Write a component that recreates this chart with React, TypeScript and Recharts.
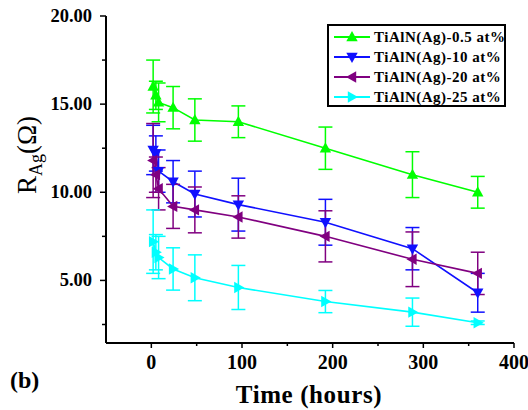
import React from "react";
import { LineChart, Line, XAxis, YAxis, ErrorBar } from "recharts";

// sampling times (hours)
const times = [2, 5, 8, 24, 48, 96, 192, 288, 360];

// R_Ag values (ohm) and error bars
const ag05 = [16.0, 15.5, 15.1, 14.8, 14.1, 14.0, 12.5, 11.0, 10.0];
const ag05Err = [1.5, 0.8, 1.1, 1.2, 1.2, 0.9, 1.2, 1.3, 0.9];
const ag10 = [12.4, 12.2, 11.2, 10.6, 9.9, 9.3, 8.3, 6.8, 4.3];
const ag10Err = [1.4, 1.0, 1.2, 1.2, 1.3, 1.5, 1.3, 1.2, 1.1];
const ag20 = [11.8, 11.0, 10.2, 9.2, 9.0, 8.6, 7.5, 6.2, 5.4];
const ag20Err = [2.1, 1.0, 1.2, 1.25, 1.3, 1.2, 1.45, 1.55, 1.2];
const ag25 = [7.2, 6.6, 6.3, 5.65, 5.15, 4.6, 3.8, 3.2, 2.6];
const ag25Err = [1.8, 1.0, 1.2, 1.2, 1.3, 1.25, 0.63, 0.8, 0.1];

const seriesNames = ["TiAlN(Ag)-0.5 at%", "TiAlN(Ag)-10 at%", "TiAlN(Ag)-20 at%", "TiAlN(Ag)-25 at%"];

const xTicks = [0, 50, 100, 150, 200, 250, 300, 350, 400];
const yTicks = [2.5, 5, 7.5, 10, 12.5, 15, 17.5, 20];

const FONT = "'Liberation Serif', 'Times New Roman', serif";

type Shape = "up" | "down" | "left" | "right";

const series = [
  { key: "a", name: seriesNames[0], color: "#00ff00", shape: "up" as Shape, values: ag05, err: ag05Err },
  { key: "b", name: seriesNames[1], color: "#1010ff", shape: "down" as Shape, values: ag10, err: ag10Err },
  { key: "c", name: seriesNames[2], color: "#800080", shape: "left" as Shape, values: ag20, err: ag20Err },
  { key: "d", name: seriesNames[3], color: "#00ffff", shape: "right" as Shape, values: ag25, err: ag25Err },
];

const data = times.map((t, i) => {
  const row: any = { time: t };
  series.forEach((s) => {
    row[s.key] = s.values[i];
    row[s.key + "Err"] = s.err[i];
  });
  return row;
});

const trianglePoints = (cx: number, cy: number, shape: Shape, r = 6) => {
  const a = r * 0.95;
  const b = r * 0.7;
  switch (shape) {
    case "up":
      return `${cx},${cy - r} ${cx - a},${cy + b} ${cx + a},${cy + b}`;
    case "down":
      return `${cx},${cy + r} ${cx - a},${cy - b} ${cx + a},${cy - b}`;
    case "left":
      return `${cx - r},${cy} ${cx + b},${cy - a} ${cx + b},${cy + a}`;
    default:
      return `${cx + r},${cy} ${cx - b},${cy - a} ${cx - b},${cy + a}`;
  }
};

const XTick = (props: any) => {
  const { x, y, payload } = props;
  const major = payload.value % 100 === 0;
  return (
    <g>
      <line x1={x} y1={y} x2={x} y2={y + (major ? 5 : 3)} stroke="#000" strokeWidth={1.5} />
      {major && (
        <text x={x} y={y + 26} textAnchor="middle" fontFamily={FONT} fontWeight="bold" fontSize={20} fill="#000">
          {payload.value}
        </text>
      )}
    </g>
  );
};

const YTick = (props: any) => {
  const { x, y, payload } = props;
  const major = payload.value % 5 === 0;
  return (
    <g>
      <line x1={x} y1={y} x2={x - (major ? 6 : 4)} y2={y} stroke="#000" strokeWidth={1.5} />
      {major && (
        <text x={x - 14} y={y + 6} textAnchor="end" fontFamily={FONT} fontWeight="bold" fontSize={18.5} fill="#000">
          {payload.value.toFixed(2)}
        </text>
      )}
    </g>
  );
};

const XTitle = () => (
  <text x={309} y={403} textAnchor="middle" fontFamily={FONT} fontWeight="bold" fontSize={25} letterSpacing={0.6} fill="#000">
    Time (hours)
  </text>
);

const YTitle = () => (
  <text transform="translate(36,155) rotate(-90)" textAnchor="middle" fontFamily={FONT} fontSize={27} fill="#000">
    R
    <tspan dy={6} fontSize={18}>Ag</tspan>
    <tspan dy={-6}>(Ω)</tspan>
  </text>
);

const LegendBox = () => (
  <div
    style={{
      position: "absolute",
      left: 327,
      top: 24,
      width: 179,
      height: 83,
      boxSizing: "border-box",
      border: "2px solid #000",
      background: "#fff",
      padding: "1px 0 0 4px",
      fontFamily: FONT,
      fontWeight: "bold",
      fontSize: 15,
      lineHeight: "20px",
    }}
  >
    {series.map((s) => (
      <div key={s.key} style={{ display: "flex", alignItems: "center", height: 20 }}>
        <svg width={38} height={20} style={{ flex: "none" }}>
          <line x1={1} y1={10} x2={37} y2={10} stroke={s.color} strokeWidth={1.8} />
          <polygon points={trianglePoints(19, 10, s.shape)} fill={s.color} />
        </svg>
        <span style={{ marginLeft: 3, whiteSpace: "nowrap", letterSpacing: 0.5 }}>{s.name}</span>
      </div>
    ))}
  </div>
);

export default function App() {
  return (
    <div style={{ position: "absolute", left: 0, top: 0, width: 528, height: 410, background: "#fff" }}>
      <LineChart width={528} height={410} data={data} margin={{ top: 16, right: 14, bottom: 0, left: 0 }}>
        <XAxis
          dataKey="time"
          type="number"
          domain={[-50, 400]}
          ticks={xTicks}
          interval={0}
          height={67}
          tickSize={0}
          tickMargin={0}
          tick={<XTick />}
          axisLine={{ stroke: "#000", strokeWidth: 2 }}
          label={<XTitle />}
        />
        <XAxis
          xAxisId="top"
          orientation="top"
          dataKey="time"
          type="number"
          domain={[-50, 400]}
          height={0}
          tick={false}
          tickLine={false}
          axisLine={{ stroke: "#000", strokeWidth: 2 }}
        />
        <YAxis
          type="number"
          domain={[1.45, 20]}
          ticks={yTicks}
          interval={0}
          width={106}
          tickSize={0}
          tickMargin={0}
          tick={<YTick />}
          axisLine={{ stroke: "#000", strokeWidth: 2 }}
          label={<YTitle />}
          allowDataOverflow
        />
        <YAxis
          yAxisId="right"
          orientation="right"
          type="number"
          domain={[1.45, 20]}
          width={0}
          tick={false}
          tickLine={false}
          axisLine={{ stroke: "#000", strokeWidth: 2 }}
        />
        {series.map((s) => (
          <Line
            key={s.key}
            type="linear"
            dataKey={s.key}
            name={s.name}
            stroke={s.color}
            strokeWidth={1.6}
            isAnimationActive={false}
            dot={(p: any) => (
              <polygon key={`${s.key}-${p.index}`} points={trianglePoints(p.cx, p.cy, s.shape)} fill={s.color} />
            )}
            activeDot={false}
          >
            <ErrorBar dataKey={s.key + "Err"} width={7} stroke={s.color} strokeWidth={1.5} direction="y" />
          </Line>
        ))}
      </LineChart>
      <LegendBox />
      <div
        style={{
          position: "absolute",
          left: 10,
          top: 366,
          fontFamily: FONT,
          fontWeight: "bold",
          fontSize: 24,
          lineHeight: "28px",
        }}
      >
        (b)
      </div>
    </div>
  );
}
